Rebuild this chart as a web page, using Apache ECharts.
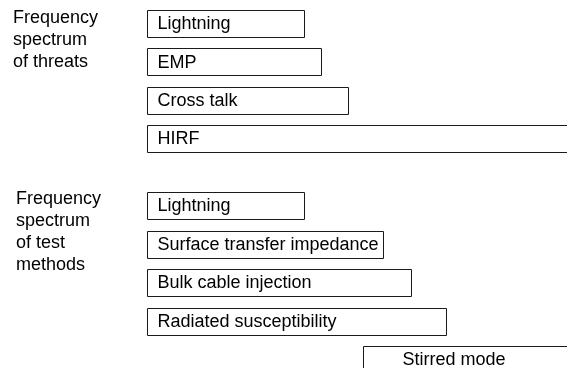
<!DOCTYPE html>
<html>
<head>
<meta charset="utf-8">
<script src="https://cdn.jsdelivr.net/npm/echarts@6/dist/echarts.min.js"></script>
<style>
  html, body { margin: 0; padding: 0; background: #fff; }
  #chart { width: 567px; height: 368px; }
</style>
</head>
<body>
<div id="chart"></div>
<script>
// ---- data ----
const threatCategories = ['Lightning', 'EMP', 'Cross talk', 'HIRF'];
const threatStart = [0, 0, 0, 0];
const threatEnd = [34.1, 37.8, 43.7, 100];

const testCategories = ['Lightning', 'Surface transfer impedance', 'Bulk cable injection', 'Radiated susceptibility', 'Stirred mode'];
const testStart = [0, 0, 0, 0, 47];
const testEnd = [34.1, 51.3, 57.4, 65, 100];

const groupTitles = ['Frequency\nspectrum\nof threats', 'Frequency\nspectrum\nof test\nmethods'];

// ---- chart ----
const FONT = "'Liberation Sans', Arial, Helvetica, sans-serif";

function makeData(cats, starts, ends) {
  return cats.map((c, i) => [i, starts[i], ends[i]]);
}

function makeRender(cats, padFn) {
  return function (params, api) {
    const idx = api.value(0);
    const p0 = api.coord([api.value(1), idx]);
    const p1 = api.coord([api.value(2), idx]);
    const h = 27;
    const x = Math.round(p0[0]) + 0.5;
    const y = Math.round(p0[1] - h / 2) + 0.5;
    const w = Math.round(p1[0] - p0[0]);
    const name = cats[params.dataIndex];
    return {
      type: 'group',
      children: [
        {
          type: 'rect',
          shape: { x: x, y: y, width: w, height: h },
          style: { fill: '#fff', stroke: '#1a1a1a', lineWidth: 1 }
        },
        {
          type: 'text',
          style: {
            x: x + padFn(name),
            y: p0[1] + 1,
            text: name,
            fill: '#000',
            font: '18px ' + FONT,
            textAlign: 'left',
            textVerticalAlign: 'middle'
          }
        }
      ]
    };
  };
}

const pad = (name) => name === 'Stirred mode' ? 39 : 10;

const chart = echarts.init(document.getElementById('chart'), null, { renderer: 'canvas' });

chart.setOption({
  animation: false,
  backgroundColor: '#fff',
  title: [
    {
      text: groupTitles[0], left: 13, top: 7, padding: 0,
      textStyle: { fontSize: 18, fontWeight: 'normal', color: '#000', lineHeight: 22, fontFamily: FONT }
    },
    {
      text: groupTitles[1], left: 16, top: 188, padding: 0,
      textStyle: { fontSize: 18, fontWeight: 'normal', color: '#000', lineHeight: 22, fontFamily: FONT }
    }
  ],
  grid: [
    { left: 147, width: 460, top: 4.33, height: 153.33, containLabel: false, outerBoundsMode: 'none' },
    { left: 147, width: 460, top: 186.25, height: 192.5, containLabel: false, outerBoundsMode: 'none' }
  ],
  xAxis: [
    { type: 'value', gridIndex: 0, min: 0, max: 100, show: false },
    { type: 'value', gridIndex: 1, min: 0, max: 100, show: false }
  ],
  yAxis: [
    { type: 'category', gridIndex: 0, data: threatCategories, inverse: true, show: false },
    { type: 'category', gridIndex: 1, data: testCategories, inverse: true, show: false }
  ],
  series: [
    {
      type: 'custom', name: 'Threats', xAxisIndex: 0, yAxisIndex: 0,
      renderItem: makeRender(threatCategories, pad),
      encode: { x: [1, 2], y: 0 },
      data: makeData(threatCategories, threatStart, threatEnd),
      clip: false
    },
    {
      type: 'custom', name: 'Test methods', xAxisIndex: 1, yAxisIndex: 1,
      renderItem: makeRender(testCategories, pad),
      encode: { x: [1, 2], y: 0 },
      data: makeData(testCategories, testStart, testEnd),
      clip: false
    }
  ]
});
</script>
</body>
</html>
